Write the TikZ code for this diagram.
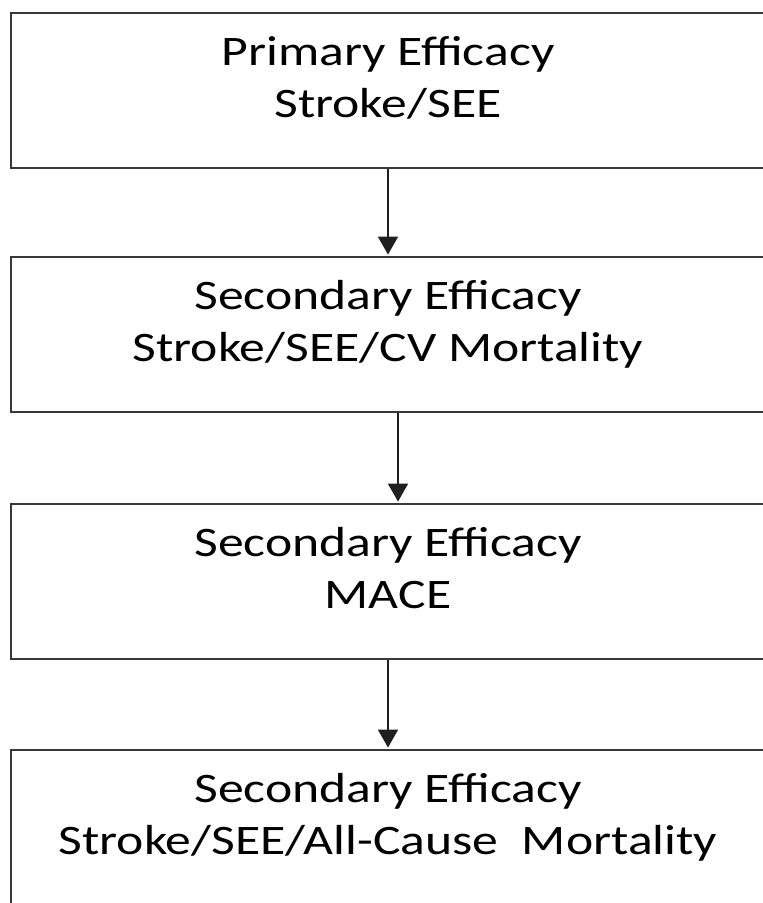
\documentclass[tikz,border=0pt]{standalone}
\usepackage{fontspec}
\setmainfont{Carlito}[FakeStretch=1.23]
\usetikzlibrary{arrows.meta}

\tikzset{
  stage/.style={draw=black!78, line width=2.8pt, fill=white,
    minimum width=754pt, minimum height=155pt, inner sep=0pt,
    align=center, text depth=28pt,
    font=\fontsize{42}{52}\selectfont},
  flow/.style={draw=black!88, line width=1.8pt,
    -{Triangle[length=18pt,width=20pt]}, shorten >=1pt}
}

\begin{document}
\begin{tikzpicture}[x=1pt,y=-1pt]

\useasboundingbox (0,0) rectangle (763,903);
\clip (0,0) rectangle (763,903);

\node[stage] (prim) at (388,90.5) {Primary Efficacy\\Stroke/SEE};
\node[stage] (cvmort) at (388,334.5) {Secondary Efficacy\\Stroke/SEE/CV Mortality};
\node[stage] (mace) at (388,581.5) {Secondary Efficacy\\MACE};
\node[stage] (allmort) at (388,827.5) {Secondary Efficacy\\Stroke/SEE/All-Cause~~Mortality};


\draw[flow] (prim) -- (cvmort);
\draw[flow] ([xshift=10pt]cvmort.south) -- ([xshift=10pt]mace.north);
\draw[flow] (mace) -- (allmort);

\end{tikzpicture}
\end{document}
